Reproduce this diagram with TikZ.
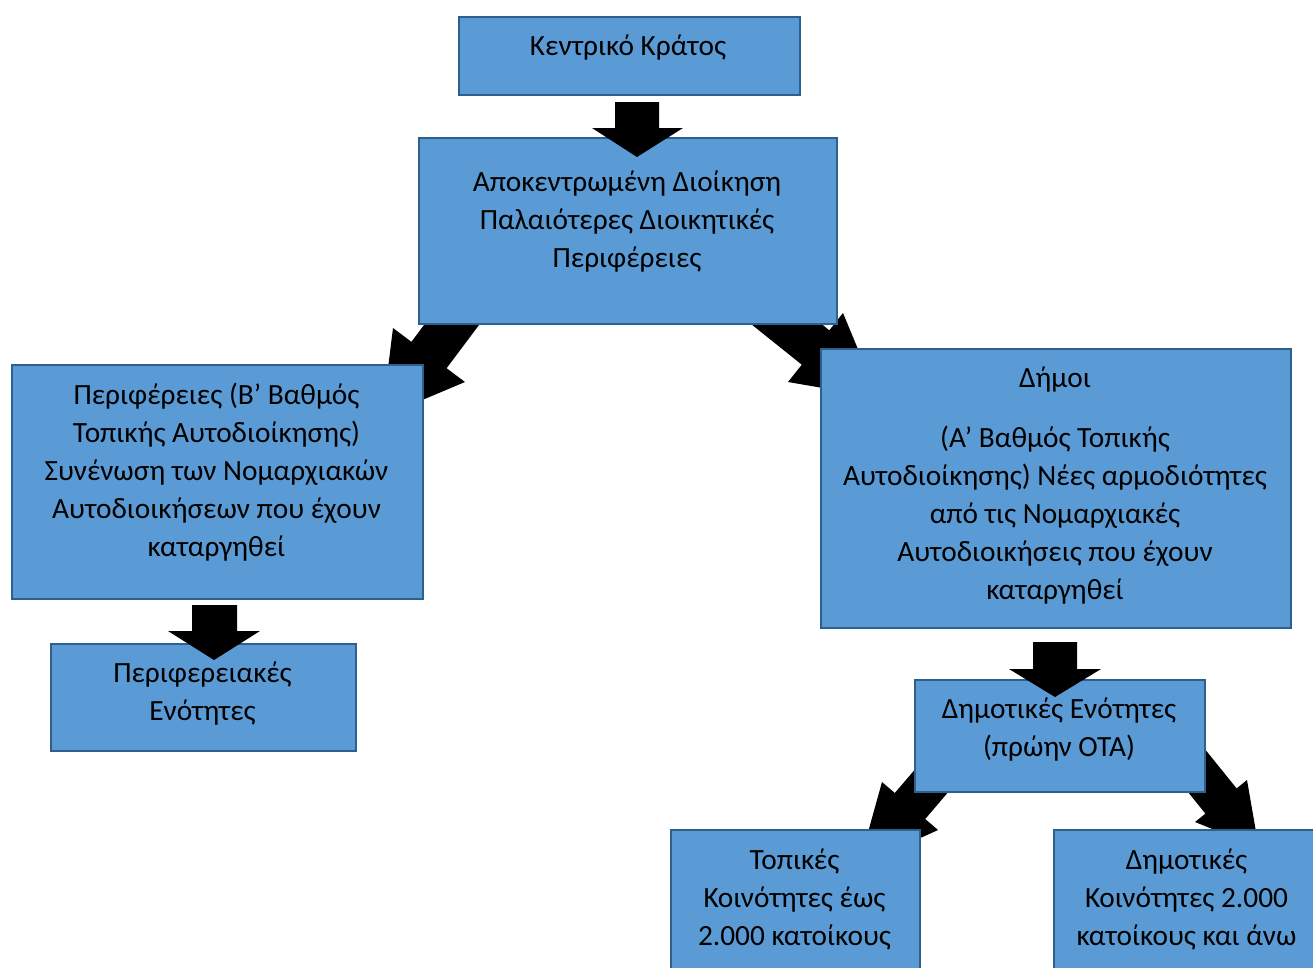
\documentclass[tikz,border=0pt]{standalone}
\usepackage{fontspec}
\setmainfont{Carlito}
\definecolor{boxfill}{HTML}{5B9BD5}
\definecolor{boxline}{HTML}{2F5F8F}
\begin{document}
\begin{tikzpicture}[x=0.75pt,y=-0.75pt,
  box/.style={draw=boxline,fill=boxfill,line width=1.7pt,inner sep=0pt,anchor=north west},
  lbl/.style={align=center,font=\fontsize{22}{28.5}\selectfont,inner sep=0pt,text=black,yshift=-1.5pt},
  blockarrow/.style={fill=black,draw=none}]
\useasboundingbox (0,0) rectangle (1313,967);
\fill[white] (0,0) rectangle (1313,967);
\clip (0,0) rectangle (1313,967);

% diagonal block arrows (lie under the boxes)
\fill[blockarrow] (459.4,277.8) -- (411.4,341.8) -- (393,328) -- (382,417) -- (465,382) -- (446.6,368.2) -- (494.6,304.2) -- cycle;
\fill[blockarrow] (766.9,280.3) -- (829.3,330.3) -- (843,313) -- (878,397.5) -- (788,382) -- (801.8,364.7) -- (739.4,314.7) -- cycle;
\fill[blockarrow] (933.8,747.4) -- (894.8,793) -- (882,782) -- (858.6,866) -- (938,830) -- (925.2,819) -- (964.2,773.4) -- cycle;
\fill[blockarrow] (1198.8,741.6) -- (1236.6,788.4) -- (1247,780) -- (1258.8,847.8) -- (1195,822) -- (1205.4,813.6) -- (1167.6,766.8) -- cycle;

% boxes
\node[box,minimum width=341*0.75pt,minimum height=78*0.75pt] (b1) at (458,16) {};
\node[box,minimum width=418*0.75pt,minimum height=186*0.75pt] (b2) at (418,137) {};
\node[box,minimum width=411*0.75pt,minimum height=234*0.75pt] (b3) at (11,364) {};
\node[box,minimum width=305*0.75pt,minimum height=107*0.75pt] (b4) at (50,643) {};
\node[box,minimum width=470*0.75pt,minimum height=279*0.75pt] (b5) at (820,348) {};
\node[box,minimum width=290*0.75pt,minimum height=112*0.75pt] (b6) at (914,679) {};
\node[box,minimum width=249*0.75pt,minimum height=160*0.75pt] (b7) at (670,829) {};
\node[box,minimum width=280*0.75pt,minimum height=160*0.75pt] (b8) at (1053,829) {};

% straight block arrows (on top)
\fill[blockarrow] (615,102) -- (659,102) -- (659,128) -- (683,128) -- (637,157) -- (592,128) -- (615,128) -- cycle;
\fill[blockarrow] (192,605) -- (237,605) -- (237,631) -- (260,631) -- (214,660) -- (168,631) -- (192,631) -- cycle;
\fill[blockarrow] (1033,642) -- (1077,642) -- (1077,669) -- (1101,669) -- (1055,697) -- (1009,669) -- (1033,669) -- cycle;

% texts
\node[lbl] (t1) at (628,46) {Κεντρικό Κράτος};
\node[lbl] (t2) at (627,220) {Αποκεντρωμένη Διοίκηση\\Παλαιότερες Διοικητικές\\Περιφέρειες};
\node[lbl] (t3) at (216.5,470.5) {Περιφέρειες (Β’ Βαθμός\\Τοπικής Αυτοδιοίκησης)\\Συνένωση των Νομαρχιακών\\Αυτοδιοικήσεων που έχουν\\καταργηθεί};
\node[lbl] (t4) at (202.5,692) {Περιφερειακές\\Ενότητες};
\node[lbl] (t5) at (1055,484) {Δήμοι\\[16.5pt](Α’ Βαθμός Τοπικής\\Αυτοδιοίκησης) Νέες αρμοδιότητες\\από τις Νομαρχιακές\\Αυτοδιοικήσεις που έχουν\\καταργηθεί};
\node[lbl] (t6) at (1059,728) {Δημοτικές Ενότητες\\(πρώην ΟΤΑ)};
\node[lbl] (t7) at (794.5,897) {Τοπικές\\Κοινότητες έως\\2.000 κατοίκους};
\node[lbl] (t8) at (1186.5,897) {Δημοτικές\\Κοινότητες 2.000\\κατοίκους και άνω};
\end{tikzpicture}
\end{document}
